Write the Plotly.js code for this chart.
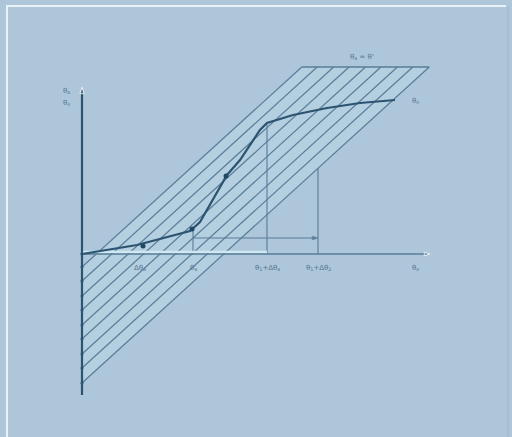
<!DOCTYPE html>
<html>
<head>
<meta charset="utf-8">
<script src="https://cdn.plot.ly/plotly-3.0.1.min.js"></script>
<style>
  html, body { margin: 0; padding: 0; background: #adc6da; }
  #chart { width: 512px; height: 437px; }
</style>
</head>
<body>
<div id="chart"></div>
<script>
// hatched band: parallel lines y = slope * x + intercept, cut at the top line
const hatchSlope = 0.91;
const hatchIntercepts = [-13, -27, -42, -56, -71, -85, -100, -114, -129];
const hatchTop = 187;

// characteristic curve
const curveX = [0, 55, 108, 118, 145, 158, 178, 185, 211, 245, 278, 313];
const curveY = [0, 9, 23, 32, 79, 94, 124, 131, 139, 146, 151, 154];
const dotX = [61, 110, 144];
const dotY = [8, 25, 78];

// construction verticals (x, top)
const guideX = [111, 185, 236];
const guideTop = [25, 131, 86];

// horizontal arrow
const arrowY = 16;
const arrowFrom = 111, arrowTo = 236;

// axes extent
const xAxisEnd = 348;
const yAxisTop = 167, yAxisBottom = -141;

// labels
const xLabelPos = [58, 111, 185, 236, 333];
const xLabelText = ['Δθ<sub>a</sub>', 'θ<sub>a</sub>', 'θ<sub>1</sub>+Δθ<sub>a</sub>', 'θ<sub>1</sub>+Δθ<sub>2</sub>', 'θ<sub>e</sub>'];
const yLabelText = ['θ<sub>a</sub>', 'θ<sub>e</sub>'];
const topLabel = 'θ<sub>a</sub> = θ\'';
const curveLabel = 'θ<sub>e</sub>';

const INK = '#587c98';
const DARK = '#2c5470';

// --- hatch lines, one trace with gaps
const hx = [], hy = [];
hatchIntercepts.forEach(b => {
    hx.push(0, (hatchTop - b) / hatchSlope, null);
    hy.push(b, hatchTop, null);
});
const bFirst = hatchIntercepts[0], bLast = hatchIntercepts[hatchIntercepts.length - 1];
const topStart = (hatchTop - bFirst) / hatchSlope;
const topEnd = (hatchTop - bLast) / hatchSlope;

const gx = [], gy = [];
guideX.forEach((x, i) => { gx.push(x, x, null); gy.push(0, guideTop[i], null); });

const traces = [
    // light band behind the hatching
    { x: [0, topStart, topEnd, 0, 0], y: [bFirst, hatchTop, hatchTop, bLast, bFirst], mode: 'lines',
      fill: 'toself', fillcolor: 'rgba(200,228,240,0.3)', line: { width: 0 } },
    { x: hx, y: hy, mode: 'lines', line: { color: INK, width: 1.2 } },
    { x: [topStart, topEnd], y: [hatchTop, hatchTop], mode: 'lines', line: { color: INK, width: 1.4 } },
    { x: gx, y: gy, mode: 'lines', line: { color: INK, width: 1.1 } },
    // light strip on the x axis
    { x: [0, guideX[1]], y: [2, 2], mode: 'lines', line: { color: '#cfe8f2', width: 2.5 } },
    // x axis
    { x: [-2, xAxisEnd], y: [0, 0], mode: 'lines+markers', line: { color: INK, width: 1.4 },
      marker: { symbol: ['circle', 'arrow'], size: [0, 6], color: INK, angleref: 'previous' } },
    // y axis
    { x: [0, 0], y: [yAxisBottom, yAxisTop], mode: 'lines+markers', line: { color: DARK, width: 2.2 },
      marker: { symbol: ['circle', 'arrow'], size: [0, 7], color: DARK, angleref: 'previous' } },
    // horizontal arrow
    { x: [arrowFrom, arrowTo], y: [arrowY, arrowY], mode: 'lines+markers', line: { color: INK, width: 1.1 },
      marker: { symbol: ['circle', 'arrow'], size: [0, 6], color: DARK, angleref: 'previous' } },
    // curve
    { x: curveX, y: curveY, mode: 'lines', line: { color: DARK, width: 2.2 } },
    { x: dotX, y: dotY, mode: 'markers', marker: { color: '#1f4863', size: 5 } },
    // small marks where the lines meet the y axis
    { x: hatchIntercepts.map(() => 0), y: hatchIntercepts, mode: 'markers',
      marker: { color: DARK, size: 3 } }
];

const font = { family: 'DejaVu Sans', size: 7, color: '#56768f' };
const annotations = xLabelPos.map((x, i) => ({
    x: x, y: -14, text: xLabelText[i], showarrow: false, font: font
}));
annotations.push(
    { x: -16, y: 163, text: yLabelText[0], showarrow: false, font: font },
    { x: -16, y: 151, text: yLabelText[1], showarrow: false, font: font },
    { x: 280, y: 197, text: topLabel, showarrow: false, font: font },
    { x: 333, y: 153, text: curveLabel, showarrow: false, font: font }
);

const layout = {
    width: 512, height: 437,
    margin: { l: 0, r: 0, t: 0, b: 0 },
    paper_bgcolor: '#adc6da', plot_bgcolor: '#adc6da',
    showlegend: false,
    xaxis: { range: [-82, 430], visible: false, fixedrange: true },
    yaxis: { range: [-183, 254], visible: false, fixedrange: true },
    annotations: annotations,
    shapes: [
        { type: 'line', xref: 'paper', yref: 'paper', x0: 6 / 512, x1: 506 / 512, y0: 1 - 6 / 437, y1: 1 - 6 / 437,
          line: { color: '#e8f2f7', width: 2 } },
        { type: 'line', xref: 'paper', yref: 'paper', x0: 7 / 512, x1: 7 / 512, y0: 1 - 6 / 437, y1: 0,
          line: { color: '#e8f2f7', width: 2 } },
        { type: 'line', xref: 'paper', yref: 'paper', x0: 508 / 512, x1: 508 / 512, y0: 1 - 6 / 437, y1: 0,
          line: { color: '#9fb8cc', width: 1 } }
    ]
};

Plotly.newPlot('chart', traces, layout, { staticPlot: true, displayModeBar: false });
</script>
</body>
</html>
